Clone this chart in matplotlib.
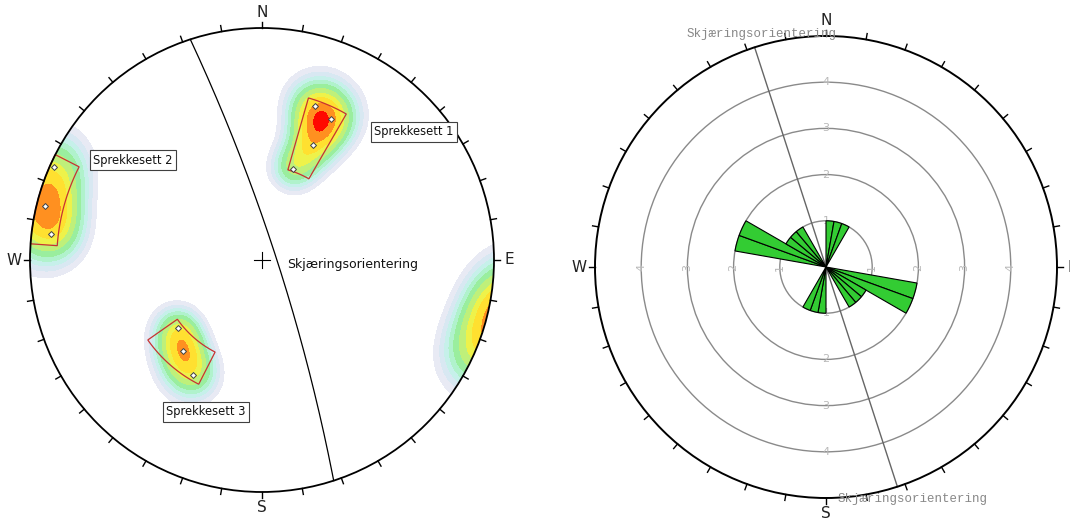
import numpy as np
import matplotlib.pyplot as plt
from matplotlib.colors import ListedColormap, BoundaryNorm
from matplotlib.patches import Circle, Wedge, Polygon

W_PX, H_PX = 1070, 518

# poles to the joints (trend, plunge), one list per joint set
set1_trend = [19, 26, 24, 19]
set1_plunge = [20, 22, 33, 45]
set2_trend = [294, 284, 277]
set2_plunge = [1, 2, 5]
set3_trend = [231, 221, 211]
set3_plunge = [40, 35, 30]

set_names = ['Sprekkesett 1', 'Sprekkesett 2', 'Sprekkesett 3']
# set windows (trend range, plunge range)
win_trend = [(16, 30), (274, 297), (207, 235)]
win_plunge = [(18, 46), (0, 7), (28, 42)]

# slope face
slope_strike = 342
slope_dip = 83
slope_name = 'Skjæringsorientering'

rose_bin = 10
rose_rings = [1, 2, 3, 4]
rose_outer = 5

# density contour levels and colours
dens_levels = [0.33, 0.48, 0.62, 0.76, 0.92, 1.12, 1.35, 1.55, 1.8, 2.05, 99]
dens_colors = ['#e8eaf4', '#d8e8f2', '#c6f0ea', '#b0f2cc', '#9aee9e',
               '#bff07a', '#eef24a', '#ffe030', '#ff9020', '#ff0800']


def proj(trend, plunge):
    # equal angle, lower hemisphere
    t = np.radians(np.asarray(trend, float))
    r = np.tan(np.radians(90 - np.asarray(plunge, float)) / 2)
    return r * np.sin(t), r * np.cos(t)


def vec(trend, plunge):
    t = np.radians(np.asarray(trend, float))
    p = np.radians(np.asarray(plunge, float))
    return np.stack([np.cos(p) * np.sin(t), np.cos(p) * np.cos(t), np.sin(p)], -1)


def great_circle(strike, dip, n=300):
    st = np.radians(strike)
    s = np.array([np.sin(st), np.cos(st), 0.0])
    dv = vec(strike + 90, dip)
    a = np.linspace(0, np.pi, n)
    v = np.outer(np.cos(a), s) + np.outer(np.sin(a), dv)
    pl = np.degrees(np.arcsin(np.clip(v[:, 2], 0, 1)))
    tr = np.degrees(np.arctan2(v[:, 0], v[:, 1]))
    return proj(tr, pl)


def px_axes(fig, cx, cy, scale, half):
    ax = fig.add_axes([(cx - half * scale) / W_PX, (H_PX - cy - half * scale) / H_PX,
                       2 * half * scale / W_PX, 2 * half * scale / H_PX])
    ax.set_xlim(-half, half)
    ax.set_ylim(-half, half)
    ax.set_aspect('equal')
    ax.axis('off')
    return ax


def net_frame(ax, R, tick, lw, font):
    ax.add_patch(Circle((0, 0), R, fill=False, ec='black', lw=lw, zorder=5))
    for az in range(0, 360, 10):
        a = np.radians(az)
        ax.plot([R * np.sin(a), (R + tick) * np.sin(a)], [R * np.cos(a), (R + tick) * np.cos(a)],
                color='black', lw=1.0, zorder=5)
    off = R + tick * 2.6
    for lab, az in zip('NESW', [0, 90, 180, 270]):
        a = np.radians(az)
        ax.text(off * np.sin(a), off * np.cos(a), lab, ha='center', va='center',
                fontsize=font, color='#222222')


fig = plt.figure(figsize=(W_PX / 100, H_PX / 100), dpi=100)

# ---------------- stereonet (left) ----------------
ax1 = px_axes(fig, 262, 260, 232, 1.15)

all_trend = set1_trend + set2_trend + set3_trend
all_plunge = set1_plunge + set2_plunge + set3_plunge
poles = vec(all_trend, all_plunge)

g = np.linspace(-1.03, 1.03, 521)
X, Y = np.meshgrid(g, g)
phi = 2 * np.arctan(np.hypot(X, Y))
th = np.arctan2(X, Y)
V = np.stack([np.sin(phi) * np.sin(th), np.sin(phi) * np.cos(th), np.cos(phi)], -1)
k = 60.0
dens = np.zeros_like(X)
for p in poles:
    dens += np.exp(k * (np.abs(V @ p) - 1))

cmap = ListedColormap(dens_colors)
norm = BoundaryNorm(dens_levels, cmap.N)
cf = ax1.contourf(X, Y, dens, levels=dens_levels, cmap=cmap, norm=norm, zorder=1)
clip = Circle((0, 0), 1, transform=ax1.transData)
cf.set_clip_path(clip)

net_frame(ax1, 1.0, 0.026, 1.3, 11)

# slope great circle
gx, gy = great_circle(slope_strike, slope_dip)
ax1.plot(gx, gy, color='black', lw=0.9, zorder=4)
ax1.text(0.108, -0.02, slope_name, fontsize=9, ha='left', va='center', color='#111111')

# centre cross
c = 0.035
ax1.plot([-c, c], [0, 0], color='black', lw=0.8)
ax1.plot([0, 0], [-c, c], color='black', lw=0.8)

# set windows
for (t0, t1), (p0, p1) in zip(win_trend, win_plunge):
    ts = np.linspace(t0, t1, 40)
    tt = np.concatenate([ts, [t1], ts[::-1], [t0]])
    pp = np.concatenate([np.full(40, p0), [p1], np.full(40, p1), [p0]])
    wx, wy = proj(tt, pp)
    ax1.add_patch(Polygon(np.column_stack([wx, wy]), closed=True, fill=False,
                          ec='#c83232', lw=0.9, zorder=4))

# poles
px, py = proj(all_trend, all_plunge)
ax1.scatter(px, py, marker='D', s=9, facecolor='white', edgecolor='#404040', lw=0.7, zorder=6)

# set labels
lab_pos = [(0.654, 0.552), (-0.555, 0.431), (-0.241, -0.655)]
for name, (lx, ly) in zip(set_names, lab_pos):
    ax1.text(lx, ly, name, fontsize=8.3, ha='center', va='center', color='#111111', zorder=7,
             bbox=dict(boxstyle='square,pad=0.3', fc='white', ec='#404040', lw=0.8))

# ---------------- rose diagram (right) ----------------
ax2 = px_axes(fig, 826, 267, 46.2, 5.7)

for r in rose_rings:
    ax2.add_patch(Circle((0, 0), r, fill=False, ec='#8a8a8a', lw=1.0, zorder=2))
    for az in [0, 90, 180, 270]:
        a = np.radians(az)
        ax2.text(r * np.sin(a), r * np.cos(a), str(r), fontsize=8, color='#b8b8b8',
                 ha='center', va='center', rotation=90 if az in (90, 270) else 0, zorder=3)
net_frame(ax2, rose_outer, 0.13, 1.4, 11)

strikes = (np.array(all_trend) + 90) % 180
counts, edges = np.histogram(strikes, bins=np.arange(0, 181, rose_bin))
for n, e0 in zip(counts, edges[:-1]):
    if n == 0:
        continue
    for base in (0, 180):
        a0, a1 = e0 + base, e0 + base + rose_bin
        ax2.add_patch(Wedge((0, 0), n, 90 - a1, 90 - a0, fc='#33cc33', ec='black',
                            lw=0.8, zorder=4))

a = np.radians(slope_strike)
ax2.plot([rose_outer * np.sin(a), -rose_outer * np.sin(a)],
         [rose_outer * np.cos(a), -rose_outer * np.cos(a)], color='#666666', lw=1.0, zorder=3)
ax2.text(-1.385, 5.04, slope_name, fontsize=9, family='Liberation Mono', color='#888888',
         ha='center', va='center', zorder=6)
ax2.text(1.88, -5.02, slope_name, fontsize=9, family='Liberation Mono', color='#888888',
         ha='center', va='center', zorder=6)

fig.savefig('out.png', dpi=100)
